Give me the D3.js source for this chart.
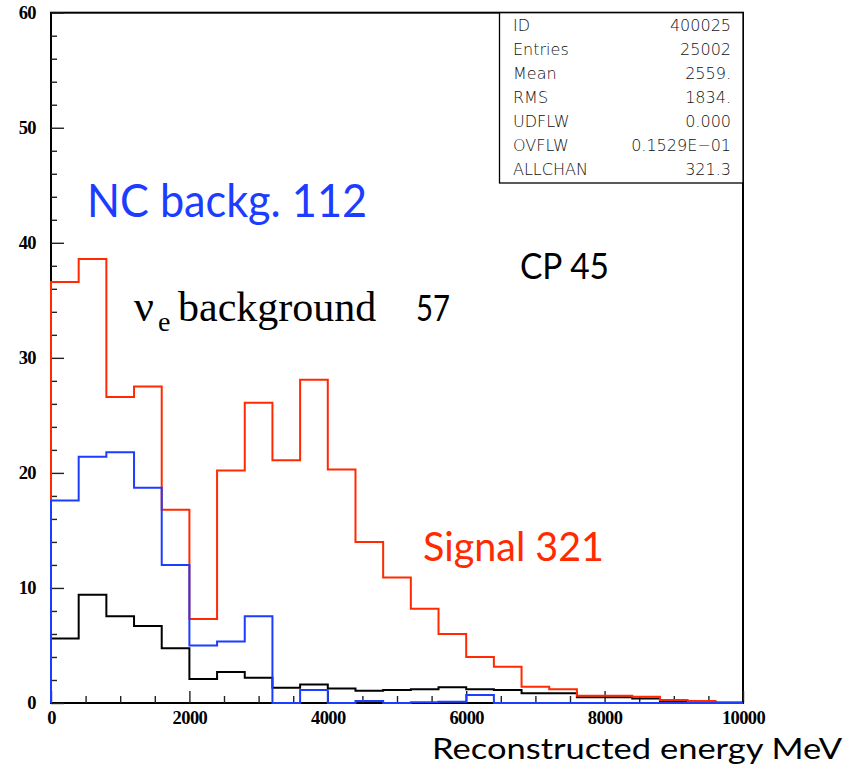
<!DOCTYPE html>
<html><head><meta charset="utf-8">
<script src="https://cdn.jsdelivr.net/npm/d3@7"></script>
<style>body{margin:0;background:#fff} svg{display:block}</style>
</head><body>
<svg id="c" width="856" height="767"></svg>
<script>
// ---- data ----
const binLow = [0,400,800,1200,1600,2000,2400,2800,3200,3600,4000,4400,4800,5200,5600,6000,6400,6800,7200,7600,8000,8400,8800,9200,9600];
const binWidth = 400;
const signal = [36.6,38.6,26.6,27.5,16.8,7.3,20.2,26.1,21.1,28.1,20.3,14.0,10.9,8.2,6.0,4.0,3.15,1.42,1.2,0.62,0.62,0.55,0.25,0.17,0.0];
const ncBackground = [17.6,21.4,21.8,18.7,12.0,5.0,5.35,7.55,0,1.13,0,0.17,0,0.06,0.1,0.7,0,0,0,0,0,0,0,0,0];
const nueBackground = [5.6,9.4,7.55,6.7,4.75,2.08,2.7,2.2,1.33,1.6,1.27,1.07,1.13,1.19,1.36,1.19,1.13,0.84,0.84,0.5,0.5,0.4,0.1,0.1,0.05];
const xMajorTicks = [0,2000,4000,6000,8000,10000];
const xMinorTicks = [500,1000,1500,2500,3000,3500,4500,5000,5500,6500,7000,7500,8500,9000,9500];
const yMajorTicks = [0,10,20,30,40,50,60];
const yMinorTicks = [2,4,6,8,12,14,16,18,22,24,26,28,32,34,36,38,42,44,46,48,52,54,56,58];
const statLabels = ["ID","Entries","Mean","RMS","UDFLW","OVFLW","ALLCHAN"];
const statValues = ["400025","25002","2559.","1834.","0.000","0.1529E\u221201","321.3"];

const RED = "#ff2a00", BLUE = "#1c3cff";

// ---- scales ----
const svg = d3.select("#c");
const x = d3.scaleLinear().domain([0,10000]).range([51,743]);
const y = d3.scaleLinear().domain([0,60]).range([703,12.7]);

// frame
svg.append("rect").attr("x",x(0)).attr("y",y(60)).attr("width",x(10000)-x(0)).attr("height",y(0)-y(60))
  .attr("fill","none").attr("stroke","#000").attr("stroke-width",2);

// axes
const tickStyle = g => { g.select(".domain").remove(); g.selectAll("line").attr("stroke","#222").attr("stroke-width",1.4); };
const labStyle = g => g.selectAll("text").attr("font-family","'Liberation Serif',serif").attr("font-weight","bold")
  .attr("font-size",18.5).attr("fill","#000").attr("letter-spacing",-0.6);

svg.append("g").attr("transform",`translate(${x(0)},0)`)
  .call(d3.axisLeft(y).tickValues(yMinorTicks).tickSize(-6).tickFormat("")).call(tickStyle);
svg.append("g").attr("transform",`translate(${x(0)},0)`)
  .call(d3.axisLeft(y).tickValues(yMajorTicks).tickSize(-13).tickPadding(15).tickFormat(d3.format("d")))
  .call(tickStyle).call(labStyle);
svg.append("g").attr("transform",`translate(0,${y(0)})`)
  .call(d3.axisBottom(x).tickValues(xMinorTicks).tickSize(-7).tickFormat("")).call(tickStyle);
svg.append("g").attr("transform",`translate(0,${y(0)})`)
  .call(d3.axisBottom(x).tickValues(xMajorTicks).tickSize(-12).tickPadding(8).tickFormat(d3.format("d")))
  .call(tickStyle).call(labStyle);

// histograms
function histPoints(vals){
  const pts = [[binLow[0],0]];
  vals.forEach((v,i)=>{ pts.push([binLow[i],v]); pts.push([binLow[i]+binWidth,v]); });
  pts.push([binLow[binLow.length-1]+binWidth,0]);
  return pts;
}
const line = d3.line().x(d=>x(d[0])).y(d=>y(d[1]));
[[nueBackground,"#000"],[signal,RED],[ncBackground,BLUE]].forEach(([vals,col])=>{
  svg.append("path").attr("d",line(histPoints(vals))).attr("fill","none")
    .attr("stroke",col).attr("stroke-width",2).attr("stroke-linejoin","miter");
});

// stat box
const box = svg.append("g");
box.append("rect").attr("x",499.5).attr("y",y(60)).attr("width",x(10000)-499.5).attr("height",183-y(60))
  .attr("fill","#fff").attr("stroke","#000").attr("stroke-width",1.3);
statLabels.forEach((t,i)=>{
  box.append("text").attr("x",513).attr("y",31+i*24).text(t)
    .attr("font-family","'DejaVu Sans',sans-serif").attr("font-weight",200).attr("font-size",16).attr("fill","#111");
  box.append("text").attr("x",731).attr("y",31+i*24).attr("text-anchor","end").text(statValues[i])
    .attr("font-family","'DejaVu Sans',sans-serif").attr("font-weight",200).attr("font-size",16).attr("fill","#111");
});

// annotations
const gill = "Lato,'Open Sans',sans-serif";
function label(txt,xx,yy,size,col,len){
  const t = svg.append("text").attr("x",xx).attr("y",yy).text(txt)
    .attr("font-family",gill).attr("font-size",size).attr("fill",col);
  if(len) t.attr("textLength",len).attr("lengthAdjust","spacingAndGlyphs");
  return t;
}
label("NC backg. 112",87,217,46,BLUE,280);
label("CP 45",520,279,36,"#000",89);
label("57",416,321,37,"#000",34);
label("Signal 321",423,561,40,RED,181);
label("Reconstructed energy MeV",432,759,28.5,"#000",410);

// nu_e background (serif)
const nu = svg.append("text").attr("font-family","'Liberation Serif',serif").attr("fill","#000");
nu.append("tspan").attr("x",134).attr("y",321).attr("font-size",44).text("\u03bd");
nu.append("tspan").attr("x",158).attr("y",331).attr("font-size",28).text("e");
nu.append("tspan").attr("x",178).attr("y",321).attr("font-size",42).text("background");
</script>
</body></html>
